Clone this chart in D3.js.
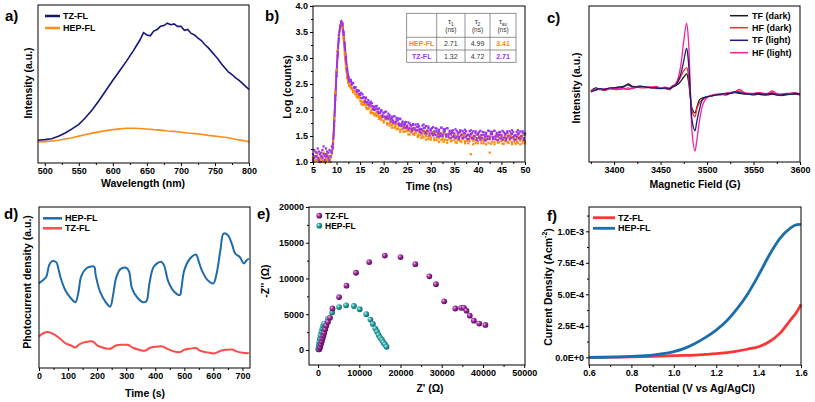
<!DOCTYPE html>
<html><head><meta charset="utf-8">
<script src="https://cdn.jsdelivr.net/npm/d3@7"></script>
<style>
body{margin:0;background:#fff}
svg{display:block;font-family:"Liberation Sans",Arial,sans-serif}
</style>
</head><body><svg id="c" width="815" height="402"></svg>
<script>
// ---------- Panel a: PL spectra ----------
const aWaveTZ = [490,500,510,520,530,540,550,560,570,580,590,600,610,620,630,635,640,645,650,655,660,665,670,675,680,685,690,695,700,705,710,715,720,725,730,735,740,745,750,755,760,765,770,775,780,785,790,795,800];
const aTZ = [14.4,14.8,15.4,16.9,19,21.6,24.5,28.8,33.8,39.7,46,52.4,58.4,64.5,71,74.5,78,82.5,81,80.5,83.5,84.5,86.5,87,88.5,87.5,88,86.5,86.5,84,84.5,82,81,79,77.5,75,73,70.5,68,65.5,62.5,60,57.5,56,54,52.5,50.5,48.5,46.5];
const aWaveHEP = [490,500,510,520,530,540,550,560,570,580,590,600,610,620,630,640,650,660,670,680,690,700,710,720,730,740,750,760,770,780,790,800];
const aHEP = [13.3,13.5,13.9,14.4,15.2,16,17,18,18.9,19.7,20.5,21.1,21.6,22,22,21.8,21.5,21.1,20.8,20.3,20,19.5,19,18.6,18.2,17.5,17,16.5,16,15,14.3,13.5];
const aTicks = [500,550,600,650,700,750,800];

// ---------- Panel b: TRPL decay ----------
const bStart = 5, bStep = 0.25;
const bTZa = [1.15,1.08,1.20,1.11,1.26,1.04,1.15,1.18,1.08,1.30,1.11,1.15,1.20,1.08,1.23,1.11,1.18,
1.28,1.70,2.20,2.65,3.05,3.38,3.58,3.68,3.67,3.50,3.28,3.02,2.80,2.65,2.57,
2.56,2.49,2.52,2.44,2.44,2.35,2.36,2.37,2.29,2.23,2.30,2.24,2.18,2.24,2.15,2.10,2.14,2.16,2.07,2.07,2.00,2.07,2.03,1.97,2.03,1.95,1.98,1.87,1.95,1.87,1.97,1.88,1.82,1.90,1.83,1.84,1.76,1.88,1.77,1.85,1.80,1.71,1.83,1.73,1.78,1.66,1.73,1.77,1.67,1.63,1.74,1.70,1.63,1.73,1.65,1.61,1.68,1.73,1.62,1.64,1.55,1.70,1.65,1.57,1.69,1.60,1.65,1.51,1.63,1.55,1.67,1.59,1.52,1.64,1.55,1.59,1.50,1.66,1.53,1.63,1.59,1.49,1.65,1.53,1.60,1.46,1.56,1.61,1.50,1.46,1.60,1.55,1.48,1.61,1.52,1.46,1.56,1.62,1.49,1.52,1.44,1.59,1.54,1.46,1.59,1.50,1.56,1.42,1.55,1.47,1.60,1.52,1.45,1.57,1.49,1.53,1.44,1.60,1.48,1.58,1.54,1.44,1.60,1.49,1.56,1.42,1.52,1.58,1.47,1.43,1.57,1.53,1.46,1.59,1.50,1.45,1.55,1.61,1.48,1.51,1.43,1.58,1.54,1.46,1.59,1.50,1.56,1.42,1.55];
const bTZb = [1.04,1.23,1.11,1.18,1.08,1.20,1.00,1.11,1.23,1.15,1.04,1.26,1.11,1.18,1.04,1.20,1.30,
1.35,1.78,2.28,2.72,3.12,3.44,3.62,3.70,3.63,3.45,3.22,2.97,2.76,2.62,2.55,
2.58,2.51,2.52,2.42,2.43,2.38,2.38,2.31,2.31,2.33,2.23,2.25,2.15,2.22,2.15,2.19,2.09,2.12,2.13,2.02,2.05,2.01,2.08,2.02,1.94,1.95,2.00,1.90,1.94,1.96,1.84,1.85,1.93,1.87,1.78,1.87,1.80,1.88,1.74,1.81,1.84,1.74,1.83,1.69,1.75,1.71,1.76,1.66,1.70,1.76,1.65,1.71,1.59,1.71,1.65,1.72,1.61,1.67,1.69,1.57,1.63,1.60,1.72,1.66,1.55,1.60,1.68,1.55,1.61,1.65,1.51,1.54,1.65,1.59,1.49,1.62,1.55,1.66,1.50,1.59,1.63,1.53,1.65,1.48,1.57,1.53,1.60,1.48,1.55,1.63,1.49,1.57,1.44,1.58,1.51,1.60,1.47,1.55,1.59,1.44,1.52,1.49,1.61,1.55,1.45,1.50,1.59,1.46,1.53,1.57,1.43,1.47,1.58,1.52,1.42,1.56,1.49,1.60,1.44,1.54,1.58,1.48,1.60,1.44,1.53,1.49,1.57,1.45,1.52,1.60,1.47,1.55,1.42,1.56,1.50,1.59,1.46,1.54,1.58,1.43,1.51,1.48,1.61,1.55,1.45,1.50,1.59,1.46,1.53];
const bHEPa = [1.08,1.00,1.11,1.04,1.15,1.00,1.08,1.04,1.11,1.00,1.15,1.08,1.04,1.11,1.00,1.08,1.20,
1.40,1.85,2.35,2.78,3.15,3.45,3.63,3.69,3.58,3.35,3.05,2.80,2.62,2.52,2.46,
2.47,2.42,2.36,2.37,2.31,2.26,2.28,2.27,2.18,2.17,2.10,2.16,2.12,2.05,2.11,2.03,2.05,1.94,2.01,1.94,2.00,1.93,1.88,1.93,1.87,1.87,1.81,1.88,1.79,1.87,1.82,1.72,1.84,1.74,1.79,1.66,1.73,1.77,1.67,1.63,1.73,1.69,1.62,1.71,1.63,1.58,1.66,1.70,1.59,1.60,1.53,1.64,1.60,1.54,1.63,1.56,1.60,1.48,1.58,1.51,1.63,1.55,1.47,1.59,1.50,1.54,1.44,1.60,1.47,1.57,1.53,1.42,1.58,1.47,1.54,1.39,1.49,1.55,1.44,1.39,1.53,1.49,1.42,1.54,1.45,1.40,1.50,1.56,1.43,1.46,1.37,1.52,1.48,1.40,1.53,1.44,1.50,1.36,1.49,1.40,1.53,1.45,1.15,1.49,1.41,1.44,1.36,1.52,1.40,1.50,1.46,1.36,1.52,1.41,1.48,1.34,1.44,1.50,1.18,1.35,1.49,1.45,1.38,1.51,1.42,1.37,1.47,1.53,1.40,1.43,1.35,1.50,1.46,1.38,1.51,1.42,1.48,1.34,1.47,1.39,1.52,1.44,1.37,1.49,1.41,1.45,1.36,1.52,1.40];
const bHEPb = [1.00,1.11,1.04,1.18,1.04,1.08,1.15,1.00,1.04,1.18,1.04,1.00,1.15,1.04,1.11,1.00,1.15,
1.32,1.80,2.30,2.74,3.12,3.42,3.61,3.70,3.61,3.40,3.10,2.84,2.65,2.54,2.48,
2.43,2.42,2.34,2.36,2.30,2.31,2.24,2.24,2.24,2.12,2.15,2.10,2.16,2.10,2.02,2.03,2.07,1.97,2.00,2.01,1.90,1.91,1.96,1.91,1.83,1.89,1.84,1.88,1.76,1.83,1.86,1.75,1.84,1.70,1.76,1.71,1.76,1.66,1.70,1.76,1.64,1.70,1.58,1.69,1.63,1.69,1.59,1.64,1.66,1.53,1.60,1.57,1.66,1.61,1.52,1.56,1.62,1.52,1.57,1.60,1.46,1.50,1.60,1.54,1.43,1.57,1.49,1.60,1.43,1.53,1.57,1.46,1.58,1.42,1.50,1.46,1.54,1.42,1.48,1.56,1.43,1.51,1.37,1.51,1.45,1.54,1.41,1.49,1.53,1.38,1.46,1.42,1.55,1.49,1.39,1.44,1.53,1.40,1.47,1.51,1.36,1.40,1.51,1.45,1.34,1.48,1.41,1.52,1.36,1.46,1.50,1.40,1.52,1.36,1.45,1.41,1.49,1.37,1.44,1.52,1.39,1.47,1.34,1.48,1.42,1.51,1.38,1.46,1.50,1.35,1.43,1.40,1.53,1.47,1.37,1.42,1.51,1.38,1.45,1.49,1.35,1.39,1.50,1.44,1.34,1.48,1.41,1.52,1.36];
const bXTicks = [5,10,15,20,25,30,35,40,45,50];
const bYTicks = [1.0,1.5,2.0,2.5,3.0,3.5,4.0];
const tblNames = ["HEP-FL","TZ-FL"];
const tblTau1 = ["2.71","1.32"];
const tblTau2 = ["4.99","4.72"];
const tblTauAv = ["3.41","2.71"];

// ---------- Panel c: EPR ----------
const cField = [3375,3380,3385,3390,3395,3400,3405,3410,3415,3420,3425,3430,3435,3440,3445,3450,3455,3460,3463,3466,3469,3472,3475,3478,3480,3482,3484,3487,3489,3492,3495,3498,3502,3506,3510,3515,3520,3525,3530,3535,3540,3545,3550,3555,3560,3565,3570,3575,3580,3585,3590,3595,3600];
const cTFdark = [45.5,47.5,46.5,46,47,47.5,48,48.5,49.5,48,48.5,48.5,48,47.5,48,47.5,47.5,46.5,48,49,50,52,54.5,56.5,52,42,34,31.5,35,40,41,41.5,42,42.5,43,43.5,43,44,44.5,44,43.5,43.5,43,43.5,43,43,43.5,43,42.5,43,43.5,43.5,43];
const cHFdark = [46,46,47,46,47,46.5,46.5,47,46.5,47.5,48,47.5,48,48,47,47.5,47,46.5,48.5,49.5,51.5,55,58.5,60.5,55,42,32,29,34,38,40,41,42,42.5,43,43,44,44.5,45,45.5,44,44,43.5,44,44,43.5,44.5,43.5,43,43.5,44,44,43.5];
const cTFlight = [45,46,47,46.5,47.5,47.5,48,48,50,48.5,48,48.5,48,47.5,47.5,47,47.5,47,48.5,49,52,57,65,73,64,44,26,20,26,34,40,41.5,42,42.5,43,43.5,44,44,45,44.5,44,43.5,43.5,44,43.5,43.5,44,43,43,43.5,43.5,44,43.5];
const cHFlight = [45,46.5,46.5,47,47,47.5,47,47,47.5,47,48,48,47.5,48,48.5,47.5,48,47.5,49,50,54,63,78,89,78,48,18,7,14,27,36,40,42,43,43.5,43.5,43.5,44.5,45,46.5,44.5,44,44,44.5,44,44,45.5,44,43.5,44,44,44.5,43.5];
const cTicks = [3400,3450,3500,3550,3600];
const cNames = ["TF (dark)","HF (dark)","TF (light)","HF (light)"];

// ---------- Panel d: photocurrent ----------
const dTimeHEP = [0,10,25,35,45,60,65,75,90,110,125,135,145,160,175,190,195,210,230,245,255,265,280,300,310,320,340,360,370,380,395,420,430,445,465,485,490,500,520,540,550,560,580,600,610,625,635,650,665,675,690,705,715,722];
const dHEP = [52.6,54,56.7,63.9,66.4,65.6,62.9,55.7,48.5,43.3,40.8,46.4,56.7,61.4,62.9,62.9,57.7,47.4,40.8,38.1,45.4,55.7,61.4,62.3,59.8,49.5,43.3,40.8,41.6,52.6,62.9,66,63.9,53.6,47.4,45.4,49.5,60.8,68,70.5,66,60.8,54.6,52.6,57.7,74.2,83.5,82.5,76.3,71.1,69.1,64.9,67,68];
const dTimeTZ = [0,15,30,50,70,90,110,125,140,160,185,200,225,245,265,290,305,325,345,365,380,400,425,440,465,485,500,520,540,555,580,605,625,645,665,680,700,722];
const dTZ = [19.6,21.6,22.3,21,18.6,15.5,14,12.8,14.8,16.1,16.5,14,12.4,12,14,14.4,14.4,12.4,11.3,10.7,12.4,13.2,13.4,12,10.3,9.9,11.3,12,12.4,10.7,9.7,9.1,10.7,11.3,11.5,10.3,9.5,9.1];
const dTicks = [0,100,200,300,400,500,600,700];

// ---------- Panel e: Nyquist ----------
const eTZx = [300,500,700,900,1100,1300,1500,1750,2000,2400,2900,3500,5100,6900,9200,12400,16200,20000,23600,27000,28600,30600,33300,34700,35400,36000,36800,37800,39100,40600];
const eTZy = [100,400,800,1200,1600,2000,2400,2900,3400,3900,4500,5800,7400,9000,10800,12300,13200,13000,12000,10300,9200,6800,5800,5900,5900,5500,4800,4100,3700,3500];
const eHEPx = [60,120,180,250,330,450,600,800,1050,1250,1500,2400,3400,5100,6800,8700,10100,11700,12700,13300,13900,14300,14700,15100,15500,15850,16200,16600];
const eHEPy = [100,300,550,800,1150,1600,2050,2550,3000,3400,3700,4400,5250,6000,6250,6150,5700,5000,4250,3650,3000,2550,2100,1700,1400,1050,800,450];
const eXTicks = [0,10000,20000,30000,40000,50000];
const eYTicks = [0,5000,10000,15000,20000];

// ---------- Panel f: LSV ----------
const fPot = [0.6,0.7,0.8,0.9,1.0,1.05,1.1,1.15,1.2,1.25,1.3,1.35,1.4,1.45,1.5,1.55,1.58,1.6];
const fHEP = [0,0.2e-5,0.8e-5,1.8e-5,4.5e-5,7.1e-5,1.1e-4,1.58e-4,2.16e-4,2.9e-4,3.88e-4,5.07e-4,6.52e-4,8.1e-4,9.42e-4,1.026e-3,1.053e-3,1.055e-3];
const fTZ = [0,0.1e-5,0.3e-5,0.7e-5,1.3e-5,1.5e-5,1.8e-5,2.3e-5,2.9e-5,3.8e-5,5.0e-5,6.6e-5,8.4e-5,1.24e-4,1.9e-4,2.96e-4,3.6e-4,4.2e-4];
const fXTicks = [0.6,0.8,1.0,1.2,1.4,1.6];
const fYTicks = [0,2.5e-4,5.0e-4,7.5e-4,1.0e-3];
const fYLabels = ["0.0E+0","2.5E-4","5.0E-4","7.5E-4","1.0E-3"];

// ================= drawing =================
const svg = d3.select('#c');
const defs = svg.append('defs');

function axes(box, x, y, o){
  const g = svg.append('g');
  g.append('g').attr('class','ax').attr('transform',`translate(0,${box.b})`)
    .call(d3.axisBottom(x).tickValues(o.xt).tickFormat(o.xf).tickSize(3).tickPadding(2).tickSizeOuter(0));
  if (o.xm) g.append('g').attr('class','ax').attr('transform',`translate(0,${box.b})`)
    .call(d3.axisBottom(x).tickValues(o.xm).tickFormat('').tickSize(2).tickSizeOuter(0));
  if (o.yt) g.append('g').attr('class','ax').attr('transform',`translate(${box.l},0)`)
    .call(d3.axisLeft(y).tickValues(o.yt).tickFormat(o.yf).tickSize(3).tickPadding(2).tickSizeOuter(0));
  if (o.ym) g.append('g').attr('class','ax').attr('transform',`translate(${box.l},0)`)
    .call(d3.axisLeft(y).tickValues(o.ym).tickFormat('').tickSize(2).tickSizeOuter(0));
  g.selectAll('.domain').remove();
  g.append('rect').attr('x',box.l).attr('y',box.t).attr('width',box.r-box.l).attr('height',box.b-box.t)
    .attr('fill','none').attr('stroke','#000').attr('stroke-width',1);
  return g;
}
function label(txt, x, y, size, opts={}){
  const t = svg.append('text').attr('x',x).attr('y',y).text(txt)
    .attr('font-size',size).attr('font-weight',opts.weight||'bold').attr('fill',opts.fill||'#000')
    .attr('text-anchor',opts.anchor||'start');
  if (opts.rot) t.attr('transform',`rotate(-90,${x},${y})`);
  if (opts.mid) t.attr('dominant-baseline','central');
  return t;
}
function xTitle(txt,x,y){ return label(txt,x,y,10.5,{anchor:'middle',mid:true}); }
function yTitle(txt,x,y){ return label(txt,x,y,10.5,{anchor:'middle',mid:true,rot:true}); }

// ----- a -----
{
  const box={l:38,r:249,t:5,b:163};
  const x=d3.scaleLinear().domain([490,800]).range([box.l,box.r]);
  const y=d3.scaleLinear().domain([0,100]).range([box.b,box.t]);
  const line=d3.line().x(d=>x(d[0])).y(d=>y(d[1]));
  svg.append('path').datum(d3.zip(aWaveHEP,aHEP)).attr('d',line).attr('fill','none').attr('stroke','#ff8c1a').attr('stroke-width',1.6);
  svg.append('path').datum(d3.zip(aWaveTZ,aTZ)).attr('d',line).attr('fill','none').attr('stroke','#16167a').attr('stroke-width',1.6);
  axes(box,x,y,{xt:aTicks,xf:d3.format('d'),xm:[525,575,625,675,725,775]});
  xTitle('Wavelength (nm)',143,183);
  yTitle('Intensity (a.u.)',28,83);
  label('a)',5,21,15);
  [['TZ-FL','#16167a',16],['HEP-FL','#ff8c1a',28]].forEach(([n,c,yy])=>{
    svg.append('line').attr('x1',45).attr('x2',60).attr('y1',yy).attr('y2',yy).attr('stroke',c).attr('stroke-width',2.5);
    label(n,63,yy,9,{mid:true});
  });
}

// ----- b -----
{
  const box={l:313,r:525,t:6,b:162};
  const x=d3.scaleLinear().domain([5,50]).range([box.l,box.r]);
  const y=d3.scaleLinear().domain([1,4]).range([box.b,box.t]);
  const orange='#ff8a00', purple='#9a32f0';
  const tOf=i=>bStart+i*bStep;
  // dense rise/peak region drawn as a thin trace through the same points
  const pk=d3.line().x(d=>x(d[0])).y(d=>y(d[1]));
  const seg=arr=>arr.map((v,i)=>[tOf(i),v]).filter(d=>d[0]>=9 && d[0]<=13.5);
  [[bHEPa,orange],[bHEPb,orange],[bTZa,purple],[bTZb,purple]].forEach(([arr,col])=>{
    svg.append('path').datum(seg(arr)).attr('d',pk).attr('fill','none').attr('stroke',col).attr('stroke-width',1.6);
  });
  const sets=[[bHEPa,orange],[bHEPb,orange],[bTZa,purple],[bTZb,purple]];
  sets.forEach(([arr,col])=>{
    svg.append('g').selectAll('rect').data(arr).join('rect')
      .attr('x',(d,i)=>x(tOf(i))-1.1).attr('y',d=>y(d)-1.1)
      .attr('width',2.2).attr('height',2.2).attr('fill',col);
  });
  axes(box,x,y,{xt:bXTicks,xf:d3.format('d'),xm:[7.5,12.5,17.5,22.5,27.5,32.5,37.5,42.5,47.5],
    yt:bYTicks,yf:d3.format('.1f'),ym:[1.25,1.75,2.25,2.75,3.25,3.75]});
  xTitle('Time (ns)',429,186);
  yTitle('Log (counts)',287,87);
  label('b)',265,21,15);
  // table
  const cols=[406.7,436.7,465,490,516], rows=[13.3,37.3,50,62.3];
  const tg=svg.append('g');
  tg.append('rect').attr('x',cols[0]).attr('y',rows[0]).attr('width',cols[4]-cols[0]).attr('height',rows[3]-rows[0]).attr('fill','#fff').attr('stroke','#777').attr('stroke-width',0.8);
  cols.slice(1,4).forEach(cx=>tg.append('line').attr('x1',cx).attr('x2',cx).attr('y1',rows[0]).attr('y2',rows[3]).attr('stroke','#777').attr('stroke-width',0.8));
  rows.slice(1,3).forEach(ry=>tg.append('line').attr('x1',cols[0]).attr('x2',cols[4]).attr('y1',ry).attr('y2',ry).attr('stroke','#777').attr('stroke-width',0.8));
  const cc=i=>(cols[i]+cols[i+1])/2;
  const heads=[['τ','1'],['τ','2'],['τ','av']];
  heads.forEach((h,i)=>{
    const t=tg.append('text').attr('x',cc(i+1)).attr('y',24).attr('text-anchor','middle').attr('font-size',7.5).attr('fill','#333');
    t.append('tspan').text(h[0]);
    t.append('tspan').text(h[1]).attr('font-size',5).attr('dy',1.5);
    tg.append('text').attr('x',cc(i+1)).attr('y',32).attr('text-anchor','middle').attr('font-size',6.5).attr('fill','#333').text('(ns)');
  });
  const rc=[orange,purple];
  tblNames.forEach((n,r)=>{
    const yy=(rows[r+1]+rows[r+2])/2;
    const vals=[n,tblTau1[r],tblTau2[r],tblTauAv[r]];
    vals.forEach((v,i)=>{
      const bold=(i===0||i===3);
      tg.append('text').attr('x',cc(i)).attr('y',yy).attr('dominant-baseline','central').attr('text-anchor','middle')
        .attr('font-size',7).attr('font-weight',bold?'bold':'normal').attr('fill',bold?rc[r]:'#333').text(v);
    });
  });
}

// ----- c -----
{
  const box={l:589,r:800,t:6,b:162};
  const x=d3.scaleLinear().domain([3373,3600]).range([box.l,box.r]);
  const y=d3.scaleLinear().domain([0,100]).range([box.b,box.t]);
  const line=d3.line().x((d,i)=>x(cField[i])).y(d=>y(d)).curve(d3.curveCatmullRom);
  const series=[[cTFdark,'#1a1a1a'],[cHFdark,'#ff2a2a'],[cHFlight,'#f2239b'],[cTFlight,'#1c1c78']];
  series.forEach(([s,c])=>svg.append('path').datum(s).attr('d',line).attr('fill','none').attr('stroke',c).attr('stroke-width',1.3));
  axes(box,x,y,{xt:cTicks,xf:d3.format('d'),xm:[3375,3425,3475,3525,3575]});
  xTitle('Magnetic Field (G)',695,184);
  yTitle('Intensity (a.u.)',576,88);
  label('c)',547,23,15);
  const lc=['#1a1a1a','#ff2a2a','#1c1c78','#f2239b'];
  const ly=[15.7,27.7,40.3,52.7];
  cNames.forEach((n,i)=>{
    svg.append('line').attr('x1',730).attr('x2',748).attr('y1',ly[i]).attr('y2',ly[i]).attr('stroke',lc[i]).attr('stroke-width',1.5);
    label(n,752,ly[i],9,{mid:true});
  });
}

// ----- d -----
{
  const box={l:39,r:250,t:207,b:368};
  const x=d3.scaleLinear().domain([0,726]).range([box.l,box.r]);
  const y=d3.scaleLinear().domain([0,100]).range([box.b,box.t]);
  const line=d3.line().x(d=>x(d[0])).y(d=>y(d[1])).curve(d3.curveCatmullRom);
  svg.append('path').datum(d3.zip(dTimeTZ,dTZ)).attr('d',line).attr('fill','none').attr('stroke','#ff4a4a').attr('stroke-width',2);
  svg.append('path').datum(d3.zip(dTimeHEP,dHEP)).attr('d',line).attr('fill','none').attr('stroke','#1f6aa8').attr('stroke-width',2);
  axes(box,x,y,{xt:dTicks,xf:d3.format('d'),xm:[50,150,250,350,450,550,650]});
  xTitle('Time (s)',145,393);
  yTitle('Photocurrent density (a.u.)',27,282);
  label('d)',4,219,15);
  [['HEP-FL','#1f6aa8',218.3],['TZ-FL','#ff4a4a',228.3]].forEach(([n,c,yy])=>{
    svg.append('line').attr('x1',43).attr('x2',62).attr('y1',yy).attr('y2',yy).attr('stroke',c).attr('stroke-width',2.5);
    label(n,65,yy,9,{mid:true});
  });
}

// ----- e -----
{
  const box={l:309,r:525,t:207,b:365};
  const x=d3.scaleLinear().domain([-2200,50200]).range([box.l,box.r]);
  const y=d3.scaleLinear().domain([-2100,20000]).range([box.b,box.t]);
  const mk=(id,c0,c1,c2)=>{
    const gr=defs.append('radialGradient').attr('id',id).attr('cx','35%').attr('cy','35%').attr('r','65%');
    gr.append('stop').attr('offset','0%').attr('stop-color',c0);
    gr.append('stop').attr('offset','45%').attr('stop-color',c1);
    gr.append('stop').attr('offset','100%').attr('stop-color',c2);
  };
  mk('gTZ','#e9b8ea','#9a2a9a','#5e0f5e');
  mk('gHEP','#bfeeee','#2aa3a3','#11696b');
  svg.append('g').selectAll('circle').data(d3.zip(eHEPx,eHEPy)).join('circle')
    .attr('cx',d=>x(d[0])).attr('cy',d=>y(d[1])).attr('r',2.9).attr('fill','url(#gHEP)');
  svg.append('g').selectAll('circle').data(d3.zip(eTZx,eTZy)).join('circle')
    .attr('cx',d=>x(d[0])).attr('cy',d=>y(d[1])).attr('r',2.9).attr('fill','url(#gTZ)');
  axes(box,x,y,{xt:eXTicks,xf:d3.format('d'),xm:[5000,15000,25000,35000,45000],
    yt:eYTicks,yf:d3.format('d'),ym:[2500,7500,12500,17500]});
  xTitle("Z' (Ω)",430,388);
  yTitle("-Z'' (Ω)",265,281);
  label('e)',257,219,15);
  [['TZ-FL','gTZ',215.7],['HEP-FL','gHEP',225.7]].forEach(([n,g,yy])=>{
    svg.append('circle').attr('cx',319.3).attr('cy',yy).attr('r',2.9).attr('fill',`url(#${g})`);
    label(n,325,yy,8.5,{mid:true});
  });
}

// ----- f -----
{
  const box={l:589,r:801,t:207,b:365};
  const x=d3.scaleLinear().domain([0.6,1.6]).range([box.l,box.r]);
  const y=d3.scaleLinear().domain([-6.1e-5,1.193e-3]).range([box.b,box.t]);
  const line=d3.line().x((d,i)=>x(fPot[i])).y(d=>y(d)).curve(d3.curveMonotoneX);
  svg.append('path').datum(fTZ).attr('d',line).attr('fill','none').attr('stroke','#ff3535').attr('stroke-width',2.8);
  svg.append('path').datum(fHEP).attr('d',line).attr('fill','none').attr('stroke','#1a6eab').attr('stroke-width',2.8);
  axes(box,x,y,{xt:fXTicks,xf:d3.format('.1f'),xm:[0.7,0.9,1.1,1.3,1.5],
    yt:fYTicks,yf:(d,i)=>fYLabels[i],ym:[1.25e-4,3.75e-4,6.25e-4,8.75e-4,1.125e-3]});
  xTitle('Potential (V vs Ag/AgCl)',695,388);
  const t=svg.append('text').attr('x',548).attr('y',287).attr('text-anchor','middle').attr('dominant-baseline','central')
    .attr('font-size',10.5).attr('font-weight','bold').attr('transform','rotate(-90,548,287)');
  t.append('tspan').text('Current Density (Acm');
  t.append('tspan').text('-2').attr('font-size',7).attr('dy',-4);
  t.append('tspan').text(')').attr('dy',4);
  label('f)',547,221,15);
  [['TZ-FL','#ff3535',217.7],['HEP-FL','#1a6eab',228.3]].forEach(([n,c,yy])=>{
    svg.append('line').attr('x1',593).attr('x2',615).attr('y1',yy).attr('y2',yy).attr('stroke',c).attr('stroke-width',2.8);
    label(n,618,yy,9,{mid:true});
  });
}

// axis styling
svg.selectAll('.ax .tick text').attr('font-size',9).attr('font-weight','bold').attr('fill','#000');
svg.selectAll('.ax .tick line').attr('stroke','#000');
</script></body></html>
